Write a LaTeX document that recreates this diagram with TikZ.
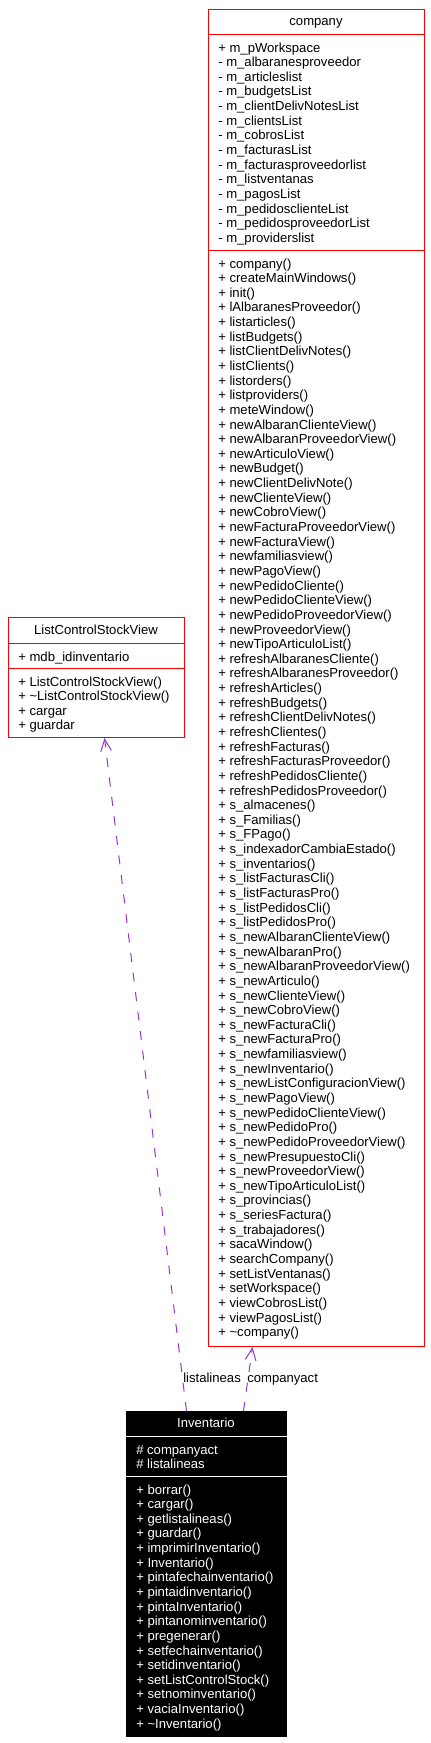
\documentclass[tikz,border=0pt]{standalone}
\usepackage{fontspec}
\setmainfont{Liberation Sans}
\usetikzlibrary{arrows.meta}
\definecolor{relink}{HTML}{9A32CD}
\newcommand{\memberfont}{\fontsize{9.83}{10.98}\selectfont}

\begin{document}
\begin{tikzpicture}[x=0.75pt,y=-0.75pt,
 cls/.style={draw=red,line width=0.75pt,inner sep=0pt,anchor=north west},
 member/.style={anchor=base west,inner sep=0pt,font=\memberfont},
 ctitle/.style={anchor=base,inner sep=0pt,font=\memberfont},
 uses/.style={draw=relink,line width=0.75pt,dash pattern=on 6.75pt off 8pt,
 -{Straight Barb[length=9pt,width=8pt]}},
 lbl/.style={anchor=base west,inner sep=0pt,font=\memberfont}]
\useasboundingbox (0,0) rectangle (431,1743);
% class boxes
\node[cls,minimum width=162pt,minimum height=1002.75pt] (company) at (208,9) {};
\node[cls,minimum width=132pt,minimum height=90pt] (lcsv) at (8,617) {};
\node[cls,draw=black,fill=black,minimum width=120pt,minimum height=243.75pt] (inv) at (126,1411) {};
% compartments
\draw[red,line width=0.75pt] (company.west |- 0,34) -- (company.east |- 0,34);
\draw[red,line width=0.75pt] (company.west |- 0,250) -- (company.east |- 0,250);
\draw[red,line width=0.75pt] (lcsv.west |- 0,643) -- (lcsv.east |- 0,643);
\draw[red,line width=0.75pt] (lcsv.west |- 0,668) -- (lcsv.east |- 0,668);
\draw[white,line width=0.75pt] (inv.west |- 0,1436) -- (inv.east |- 0,1436);
\draw[white,line width=0.75pt] (inv.west |- 0,1476) -- (inv.east |- 0,1476);
% company
\node[ctitle] (company-t) at (316,25) {company};
\foreach \m [count=\i from 0] in {+ m\_pWorkspace,- m\_albaranesproveedor,
 - m\_articleslist,- m\_budgetsList,- m\_clientDelivNotesList,- m\_clientsList,
 - m\_cobrosList,- m\_facturasList,- m\_facturasproveedorlist,- m\_listventanas,
 - m\_pagosList,- m\_pedidosclienteList,- m\_pedidosproveedorList,
 - m\_providerslist}
 \node[member] (company-a\i) at (218,{52+14.64*\i}) {\m};
\foreach \m [count=\i from 0] in {+ company(),+ createMainWindows(),+ init(),
 + lAlbaranesProveedor(),+ listarticles(),+ listBudgets(),
 + listClientDelivNotes(),+ listClients(),+ listorders(),+ listproviders(),
 + meteWindow(),+ newAlbaranClienteView(),+ newAlbaranProveedorView(),
 + newArticuloView(),+ newBudget(),+ newClientDelivNote(),+ newClienteView(),
 + newCobroView(),+ newFacturaProveedorView(),+ newFacturaView(),
 + newfamiliasview(),+ newPagoView(),+ newPedidoCliente(),
 + newPedidoClienteView(),+ newPedidoProveedorView(),+ newProveedorView(),
 + newTipoArticuloList(),+ refreshAlbaranesCliente(),
 + refreshAlbaranesProveedor(),+ refreshArticles(),+ refreshBudgets(),
 + refreshClientDelivNotes(),+ refreshClientes(),+ refreshFacturas(),
 + refreshFacturasProveedor(),+ refreshPedidosCliente(),
 + refreshPedidosProveedor(),+ s\_almacenes(),+ s\_Familias(),+ s\_FPago(),
 + s\_indexadorCambiaEstado(),+ s\_inventarios(),+ s\_listFacturasCli(),
 + s\_listFacturasPro(),+ s\_listPedidosCli(),+ s\_listPedidosPro(),
 + s\_newAlbaranClienteView(),+ s\_newAlbaranPro(),
 + s\_newAlbaranProveedorView(),+ s\_newArticulo(),+ s\_newClienteView(),
 + s\_newCobroView(),+ s\_newFacturaCli(),+ s\_newFacturaPro(),
 + s\_newfamiliasview(),+ s\_newInventario(),+ s\_newListConfiguracionView(),
 + s\_newPagoView(),+ s\_newPedidoClienteView(),+ s\_newPedidoPro(),
 + s\_newPedidoProveedorView(),+ s\_newPresupuestoCli(),
 + s\_newProveedorView(),+ s\_newTipoArticuloList(),+ s\_provincias(),
 + s\_seriesFactura(),+ s\_trabajadores(),+ sacaWindow(),+ searchCompany(),
 + setListVentanas(),+ setWorkspace(),+ viewCobrosList(),+ viewPagosList(),
 + \textasciitilde company()}
 \node[member] (company-m\i) at (218,{268+14.64*\i}) {\m};
% ListControlStockView
\node[ctitle] (lcsv-t) at (96,634) {ListControlStockView};
\node[member] (lcsv-a0) at (18,661) {+ mdb\_idinventario};
\foreach \m [count=\i from 0] in {+ ListControlStockView(),
 + \textasciitilde ListControlStockView(),+ cargar,+ guardar}
 \node[member] (lcsv-m\i) at (18,{686+14.64*\i}) {\m};
% Inventario
\node[ctitle,text=white] (inv-t) at (206,1427) {Inventario};
\foreach \m [count=\i from 0] in {\# companyact,\# listalineas}
 \node[member,text=white] (inv-a\i) at (136,{1454+14.64*\i}) {\m};
\foreach \m [count=\i from 0] in {+ borrar(),+ cargar(),+ getlistalineas(),
 + guardar(),+ imprimirInventario(),+ Inventario(),+ pintafechainventario(),
 + pintaidinventario(),+ pintaInventario(),+ pintanominventario(),
 + pregenerar(),+ setfechainventario(),+ setidinventario(),
 + setListControlStock(),+ setnominventario(),+ vaciaInventario(),
 + \textasciitilde Inventario()}
 \node[member,text=white] (inv-m\i) at (136,{1494+14.64*\i}) {\m};
% relations
\draw[uses] ([xshift=-15pt]inv.north) -- ([xshift=6pt]lcsv.south);
\draw[uses] ([xshift=27.75pt]inv.north) -- ([xshift=-48pt]company.south);
\node[lbl] (lbl-lista) at (183,1382) {listalineas};
\node[lbl] (lbl-comp) at (247,1382) {companyact};
\end{tikzpicture}
\end{document}
